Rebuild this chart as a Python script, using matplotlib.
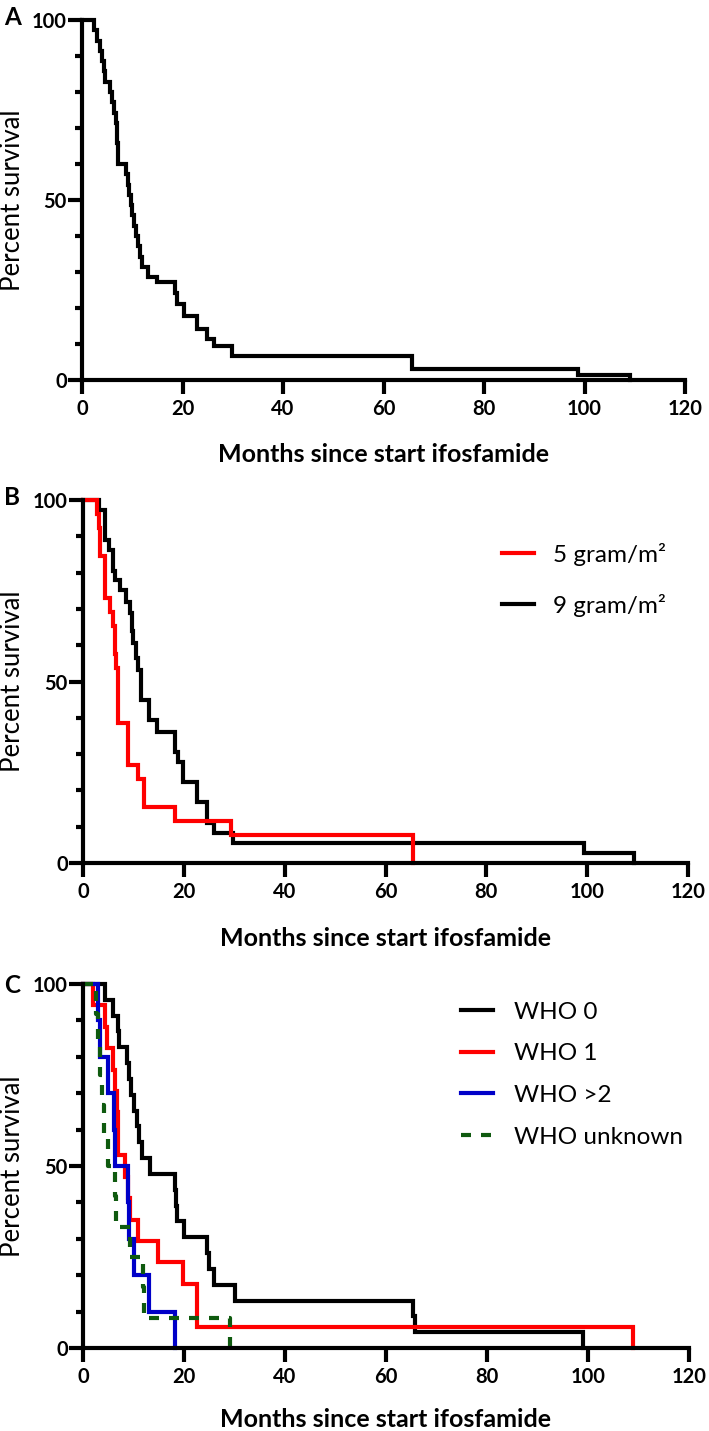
import matplotlib
matplotlib.use('Agg')
import matplotlib.pyplot as plt
from matplotlib.ticker import MultipleLocator

plt.rcParams['font.family'] = ['Lato', 'DejaVu Sans']

# ---- data ----
x_ticks = [0, 20, 40, 60, 80, 100, 120]
y_ticks = [0, 50, 100]

# panel A: all patients
a_months = [0, 2.3, 3.0, 3.5, 4.0, 4.3, 4.6, 5.6, 6.0, 6.4, 6.7, 6.9, 7.0, 7.1, 7.2,
            8.8, 9.1, 9.4, 9.7, 10.0, 10.4, 10.8, 11.2, 11.5, 12.0, 13.1, 15.0,
            18.5, 19.0, 20.2, 22.8, 24.8, 26.2, 29.8, 65.7, 98.8, 109.0]
a_surv = [100, 97.1, 94.3, 91.4, 88.6, 85.7, 82.9, 80.0, 77.1, 74.3, 71.4, 68.6, 65.7, 62.9, 60.0,
          57.1, 54.3, 51.4, 48.6, 45.7, 42.9, 40.0, 37.1, 34.3, 31.4, 28.6, 27.3,
          24.3, 21.2, 17.8, 14.1, 11.4, 9.5, 6.6, 3.0, 1.4, 0]

# panel B: dose groups
b5_months = [0, 2.8, 3.1, 3.3, 4.4, 5.4, 5.9, 6.3, 6.6, 6.9, 9.0, 11.0, 12.0, 18.3, 29.3, 65.5]
b5_surv = [100, 96.2, 92.3, 84.6, 73.1, 69.2, 65.4, 57.7, 53.8, 38.5, 26.9, 23.1, 15.4, 11.5, 7.7, 0]
b9_months = [0, 3.2, 4.3, 5.1, 5.9, 6.4, 7.3, 8.6, 9.3, 9.7, 10.0, 10.5, 11.0, 11.6, 13.1,
             14.6, 18.3, 18.8, 19.9, 22.6, 24.5, 25.9, 29.8, 99.3, 109.2]
b9_surv = [100, 97.2, 89.0, 86.2, 80.5, 78.0, 75.2, 72.0, 68.8, 64.0, 60.6, 56.5, 53.2, 44.9, 39.4,
           36.2, 30.5, 27.9, 22.4, 16.9, 10.9, 8.2, 5.6, 2.8, 0]
b_labels = ['5 gram/m²', '9 gram/m²']

# panel C: WHO performance status
c0_months = [0, 4.4, 6.0, 7.0, 7.2, 8.7, 9.2, 9.6, 10.1, 10.6, 11.1, 11.6, 13.3, 18.2, 18.4,
             18.6, 20.0, 24.5, 24.9, 25.9, 30.1, 65.4, 65.7, 99.0]
c0_surv = [100, 95.7, 91.3, 87.0, 82.6, 78.3, 73.9, 69.6, 65.2, 60.9, 56.5, 52.2, 47.8, 43.5, 39.1,
           34.8, 30.4, 26.1, 21.7, 17.4, 13.0, 8.7, 4.3, 0]
c1_months = [0, 2.0, 4.4, 4.7, 6.0, 6.4, 6.7, 6.9, 7.0, 8.3, 9.0, 9.3, 10.9, 14.9, 19.9, 22.5, 22.6, 109.0]
c1_surv = [100, 94.1, 88.2, 82.4, 76.5, 70.6, 64.7, 58.8, 52.9, 47.1, 41.2, 35.3, 29.4, 23.5, 17.6, 11.8, 5.9, 0]
c2_months = [0, 3.0, 3.3, 5.0, 6.2, 6.4, 8.9, 9.1, 10.0, 13.1, 18.2]
c2_surv = [100, 90, 80, 70, 60, 50, 40, 30, 20, 10, 0]
c3_months = [0, 2.5, 3.0, 3.3, 3.8, 4.2, 5.0, 6.3, 6.6, 9.3, 11.9, 12.0, 29.1]
c3_surv = [100, 91.7, 83.3, 75.0, 66.7, 58.3, 50.0, 41.7, 33.3, 25.0, 16.7, 8.3, 0]
c_labels = ['WHO 0', 'WHO 1', 'WHO >2', 'WHO unknown']

W, H = 709, 1431
LW = 3
LEG_FS = 17.5
fig = plt.figure(figsize=(W / 100, H / 100), dpi=100)


def axes_px(x0, x1, ytop, ybot):
    ax = fig.add_axes([x0 / W, 1 - ybot / H, (x1 - x0) / W, (ybot - ytop) / H])
    ax.px = (x0, x1, ytop, ybot)
    return ax


def style(ax, label_base):
    x0, x1, ytop, ybot = ax.px
    ax.set_xlim(0, 120)
    ax.set_ylim(0, 100)
    for s in ['top', 'right']:
        ax.spines[s].set_visible(False)
    for s in ['left', 'bottom']:
        ax.spines[s].set_linewidth(LW)
    ax.set_xticks(x_ticks, labels=[str(v) for v in x_ticks], fontweight='bold', fontsize=14.5)
    ax.set_yticks(y_ticks, labels=[str(v) for v in y_ticks], fontweight='bold', fontsize=14.5)
    ax.yaxis.set_minor_locator(MultipleLocator(10))
    ax.tick_params(axis='both', which='major', length=10, width=LW)
    ax.tick_params(axis='x', pad=4)
    ax.tick_params(axis='y', pad=1)
    ax.tick_params(axis='y', which='minor', length=5, width=LW)
    ax.set_ylabel('Percent survival', fontsize=18.5, va='center')
    ax.yaxis.set_label_coords((12.5 - x0) / (x1 - x0), 0.5)
    ax.set_xlabel('Months since start ifosfamide', fontsize=18, fontweight='bold', va='baseline')
    ax.xaxis.set_label_coords(0.5, -(label_base - ybot) / (ybot - ytop))


def km(ax, t, s, **kw):
    return ax.step(t, s, where='post', lw=LW, clip_on=False, solid_joinstyle='miter', **kw)[0]


def place_legend(ax, handles, labels, x_left, rows_y, htp):
    fs_px = LEG_FS * 100 / 72
    target_gap = (rows_y[-1] - rows_y[0]) / (len(rows_y) - 1)
    ls = 0.8
    for _ in range(2):
        leg = ax.legend(handles, labels, loc='upper left', bbox_to_anchor=(0.5, 0.5),
                        bbox_transform=fig.transFigure, frameon=False, fontsize=LEG_FS,
                        borderpad=0, borderaxespad=0, handlelength=1.33,
                        handletextpad=htp, labelspacing=ls)
        fig.canvas.draw()
        ys = [ln.get_window_extent().y0 for ln in leg.get_lines()]
        gap = (ys[0] - ys[-1]) / (len(ys) - 1)
        ls += (target_gap - gap) / fs_px
    ext = leg.get_lines()[0].get_window_extent()
    leg.set_bbox_to_anchor((0.5 + (x_left - ext.x0) / W, 0.5 + ((H - rows_y[0]) - ext.y0) / H),
                           transform=fig.transFigure)
    return leg


# A
axA = axes_px(82, 685, 20, 380)
style(axA, 462)
km(axA, a_months, a_surv, color='black')

# B
axB = axes_px(83, 688, 500, 863)
style(axB, 946)
h9 = km(axB, b9_months, b9_surv, color='black')
h5 = km(axB, b5_months, b5_surv, color='#ff0000')

# C
axC = axes_px(83, 689, 984, 1348)
style(axC, 1427)
hc0 = km(axC, c0_months, c0_surv, color='black')
hc1 = km(axC, c1_months, c1_surv, color='#ff0000')
hc2 = km(axC, c2_months, c2_surv, color='#0000c8')
hc3 = km(axC, c3_months, c3_surv, color='#0f5a0f', linestyle=(0, (2.4, 2.4)), dash_capstyle='butt')

place_legend(axB, [h5, h9], b_labels, 501.7, [553.3, 604.0], 0.78)
place_legend(axC, [hc0, hc1, hc2, hc3], c_labels, 461.0, [1010.0, 1051.7, 1093.3, 1135.0], 0.83)

for letter, x, yb in [('A', 13, 25), ('B', 12.5, 505), ('C', 12.5, 993)]:
    fig.text(x / W, 1 - yb / H, letter, fontsize=17.5, fontweight='bold', ha='center', va='baseline')

fig.savefig('out.png', dpi=100)
